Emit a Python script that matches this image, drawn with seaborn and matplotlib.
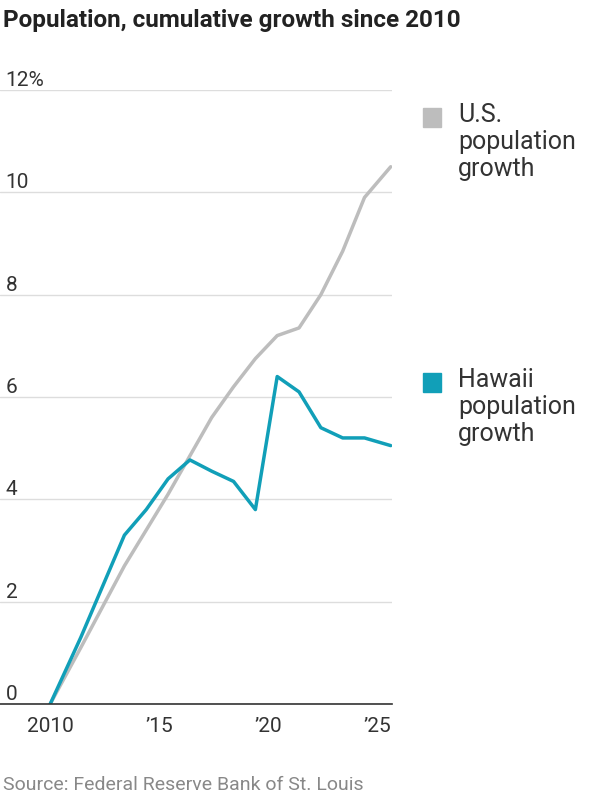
import seaborn as sns
import matplotlib.pyplot as plt
import pandas as pd

years = [2010, 2011.4, 2012.4, 2013.4, 2014.4, 2015.4, 2016.4, 2017.4, 2018.4,
         2019.4, 2020.4, 2021.4, 2022.4, 2023.4, 2024.4, 2025.6]
us_growth = [0, 1.1, 1.9, 2.7, 3.4, 4.1, 4.85, 5.6, 6.2, 6.75, 7.2, 7.35, 8.0, 8.85, 9.9, 10.5]
hawaii_growth = [0, 1.3, 2.3, 3.3, 3.8, 4.4, 4.77, 4.55, 4.35, 3.8, 6.4, 6.1, 5.4, 5.2, 5.2, 5.05]
tick_years = [2010, 2015, 2020, 2025]
tick_labels = ['2010', '\u201915', '\u201920', '\u201925']

df = pd.DataFrame({'year': years, 'us': us_growth, 'hawaii': hawaii_growth})

sns.set_style('white')
plt.rcParams['font.family'] = ['Roboto', 'DejaVu Sans']

fig = plt.figure(figsize=(6, 8), dpi=100)
ax = fig.add_axes([0.0, 0.12, 0.653, 0.7675])

sns.lineplot(data=df, x='year', y='us', color='#bdbdbd', lw=2.5, ax=ax)
sns.lineplot(data=df, x='year', y='hawaii', color='#119fb8', lw=2.5, ax=ax)

ax.set_xlim(2007.7, 2025.65)
ax.set_ylim(0, 12)
ax.set_yticks(range(0, 13, 2))
ax.set_yticklabels(['0', '2', '4', '6', '8', '10', '12%'])
ax.set_xticks(tick_years)
ax.set_xticklabels(tick_labels)
ax.set_xlabel('')
ax.set_ylabel('')
for s in ['top', 'right', 'left']:
    ax.spines[s].set_visible(False)
ax.spines['bottom'].set_color('#333333')
ax.spines['bottom'].set_linewidth(1.2)
ax.grid(axis='y', color='#dddddd', lw=1)
ax.set_axisbelow(True)
ax.tick_params(axis='y', length=0, labelsize=15, colors='#333333', pad=-4)
for lab in ax.get_yticklabels():
    lab.set_horizontalalignment('left')
    lab.set_verticalalignment('bottom')
ax.tick_params(axis='x', length=6, labelsize=15, colors='#333333', direction='out')

fig.text(0.005, 0.975, 'Population, cumulative growth since 2010', fontsize=17.5,
         fontweight='bold', color='#222222', va='center')
fig.text(0.005, 0.007, 'Source: Federal Reserve Bank of St. Louis', fontsize=14,
         color='#888888', va='bottom')

for y, col, txt in [(0.853, '#bdbdbd', 'U.S.\npopulation\ngrowth'),
                    (0.522, '#119fb8', 'Hawaii\npopulation\ngrowth')]:
    fig.patches.append(plt.Rectangle((0.705, y - 0.012), 0.03, 0.024, color=col,
                                     transform=fig.transFigure, figure=fig))
    fig.text(0.763, y + 0.018, txt, fontsize=18, color='#333333', va='top',
             linespacing=1.15)

fig.savefig('out.png', dpi=100)
